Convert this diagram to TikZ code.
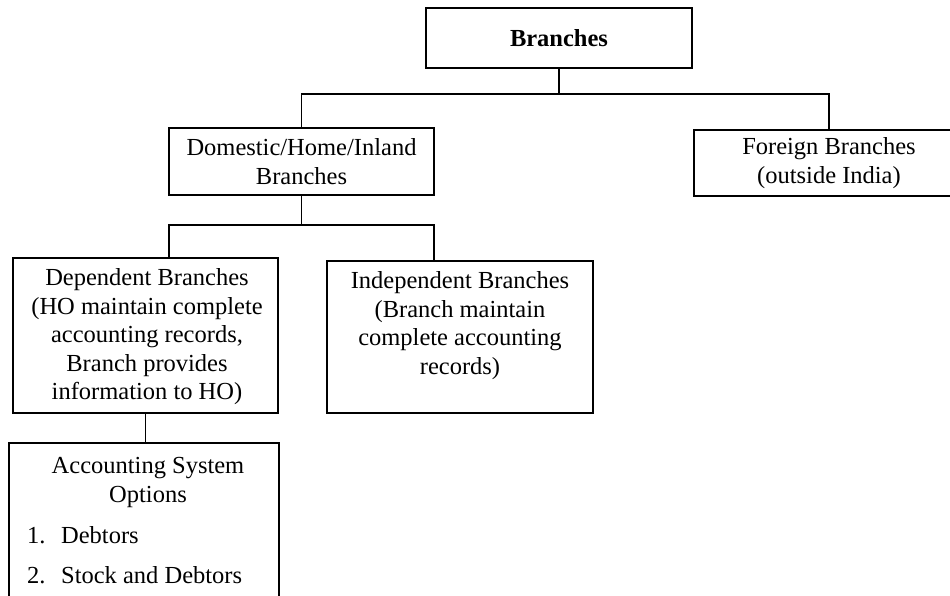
\documentclass[tikz,border=0pt]{standalone}
\usepackage{fontspec}
\setmainfont{Liberation Serif}
\begin{document}
\begin{tikzpicture}[x=1pt,y=-1pt,
  box/.style={draw, line width=1.6pt, rectangle, inner sep=0pt, outer sep=0pt},
  txt/.style={font=\fontsize{24.5}{28.5}\selectfont, align=center, inner sep=0pt},
  link/.style={line width=1.6pt}]
\clip (0,0) rectangle (950,596);
\fill[white] (0,0) rectangle (950,596);
% boxes
\node[box, txt, minimum width=266pt, minimum height=60pt] (root) at (559,38) {\bfseries Branches};
\node[box, txt, minimum width=265pt, minimum height=67pt] (dom) at (301.5,161.5) {Domestic/Home/Inland\\Branches};
\node[box, txt, minimum width=270pt, minimum height=66pt] (for) at (829,163) {Foreign Branches\\(outside India)};
\node[box, minimum width=265pt, minimum height=155pt] (dep) at (145.5,335.5) {};
\node[txt, anchor=north] (deptxt) at (147,268.5) {Dependent Branches\\(HO maintain complete\\accounting records,\\Branch provides\\information to HO)};
\node[box, minimum width=266pt, minimum height=152pt] (ind) at (460,337) {};
\node[txt, anchor=north] (indtxt) at (460,271.5) {Independent Branches\\(Branch maintain\\complete accounting\\records)};
\node[box, minimum width=270pt, minimum height=200pt] (acc) at (144,543) {};
\node[txt, anchor=north] (acctxt) at (148,457.5) {Accounting System\\Options};
\node[txt, align=left, anchor=north west] (acclist) at (27,526.5) {\makebox[34pt][l]{1.}Debtors\\[11.5pt]\makebox[34pt][l]{2.}Stock and Debtors};
% connectors
\coordinate (h1) at (0,94);
\coordinate (h2) at (0,225);
\draw[link] (root.south) -- (root.south |- h1);
\draw[link] (dom.north) |- (for.north |- h1) -- (for.north);
\draw[link] (dom.south) -- (dom.south |- h2);
\draw[link] (dep.north -| dom.south west) -- (h2 -| dom.south west) -- (h2 -| dom.south east) -- (ind.north -| dom.south east);
\draw[link] (dep.south) -- (dep.south |- acc.north);
\end{tikzpicture}
\end{document}
